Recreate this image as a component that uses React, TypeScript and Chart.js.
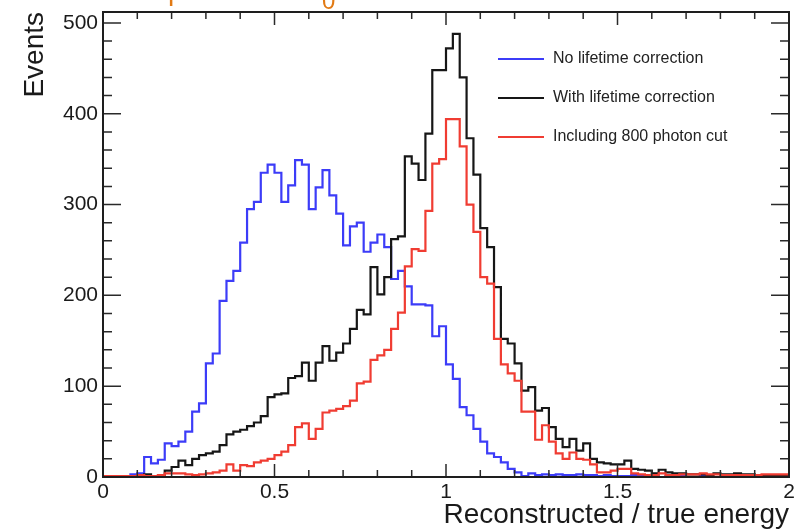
import React, { useEffect, useRef } from "react";
import { Chart, registerables } from "chart.js";

Chart.register(...registerables);

// ---- axis definition ----
const X_MIN = 0;
const X_MAX = 2;
const BIN_WIDTH = 0.02;
const Y_MIN = 0;
const Y_MAX = 512;
const X_MAJOR_STEP = 0.5;
const X_MINOR_STEP = 0.1;
const Y_MAJOR_STEP = 100;
const Y_MINOR_STEP = 20;

const X_TITLE = "Reconstructed / true energy";
const Y_TITLE = "Events";

const SERIES_LABELS = [
  "No lifetime correction",
  "With lifetime correction",
  "Including 800 photon cut",
];
const SERIES_COLORS = ["#3c3cf8", "#161616", "#f03c32"];

// ---- histogram contents (100 bins of width 0.02 from 0 to 2) ----
const NO_LIFETIME = [
  0, 0, 0, 0, 1, 3, 4, 22, 15, 19,
  37, 34, 39, 50, 72, 81, 125, 136, 194, 216,
  227, 258, 295, 303, 335, 344, 335, 303, 321, 349,
  344, 295, 319, 338, 310, 290, 255, 276, 280, 248,
  258, 267, 253, 218, 227, 210, 190, 190, 189, 155,
  166, 124, 108, 77, 68, 53, 39, 26, 22, 16,
  9, 5, 1, 4, 2, 3, 2, 3, 2, 2,
  3, 2, 2, 1, 2, 1, 1, 1, 2, 1,
  1, 1, 0, 1, 0, 1, 0, 0, 1, 0,
  0, 0, 0, 0, 0, 0, 0, 0, 0, 0,
];

const WITH_LIFETIME = [
  0, 0, 0, 0, 0, 1, 1, 3, 1, 1,
  7, 11, 18, 13, 20, 24, 26, 28, 35, 47,
  50, 52, 56, 60, 67, 88, 91, 92, 109, 111,
  126, 106, 126, 144, 128, 137, 147, 163, 184, 179,
  231, 201, 220, 262, 265, 353, 345, 327, 378, 448,
  448, 472, 488, 440, 373, 333, 274, 253, 209, 152,
  147, 125, 95, 99, 73, 76, 55, 42, 33, 42,
  29, 37, 20, 16, 15, 14, 14, 18, 9, 8,
  7, 4, 8, 5, 4, 4, 3, 3, 3, 2,
  4, 3, 3, 4, 3, 3, 1, 1, 1, 1,
];

const PHOTON_CUT = [
  1, 1, 1, 1, 1, 1, 2, 1, 1, 2,
  4, 4, 4, 3, 2, 3, 4, 5, 7, 14,
  7, 13, 12, 16, 18, 20, 24, 28, 35, 55,
  59, 42, 53, 71, 73, 75, 78, 84, 103, 105,
  129, 134, 140, 163, 181, 232, 251, 249, 293, 345,
  350, 394, 394, 364, 300, 270, 220, 213, 152, 124,
  114, 106, 72, 72, 41, 57, 39, 26, 20, 27,
  20, 19, 14, 5, 5, 7, 9, 9, 4, 3,
  2, 2, 4, 2, 2, 3, 3, 3, 4, 3,
  3, 2, 2, 2, 2, 2, 2, 3, 3, 3,
];

const SERIES = [NO_LIFETIME, WITH_LIFETIME, PHOTON_CUT];
const DRAW_ORDER = [2, 1, 0];

const FONT = "'Liberation Sans', Arial, Helvetica, sans-serif";

function toSteps(values: number[]) {
  const pts = values.map((v, i) => ({ x: X_MIN + i * BIN_WIDTH, y: v }));
  pts.push({ x: X_MIN + values.length * BIN_WIDTH, y: values[values.length - 1] });
  return pts;
}

function isMultiple(v: number, step: number) {
  const r = v / step;
  return Math.abs(r - Math.round(r)) < 1e-6;
}

const frameTicksPlugin = {
  id: "frameTicks",
  afterDraw(chart: any) {
    const { ctx, chartArea, scales } = chart;
    const { left, right, top, bottom } = chartArea;
    const xs = scales.x;
    const ys = scales.y;
    ctx.save();
    ctx.strokeStyle = "#2a2a2a";
    ctx.lineWidth = 1.5;
    ctx.beginPath();
    const nx = Math.round((X_MAX - X_MIN) / X_MINOR_STEP);
    for (let i = 0; i <= nx; i++) {
      const v = X_MIN + i * X_MINOR_STEP;
      const len = isMultiple(v, X_MAJOR_STEP) ? 13 : 7;
      const px = xs.getPixelForValue(v);
      ctx.moveTo(px, bottom);
      ctx.lineTo(px, bottom - len);
      ctx.moveTo(px, top);
      ctx.lineTo(px, top + len);
    }
    const ny = Math.floor((Y_MAX - Y_MIN) / Y_MINOR_STEP);
    for (let i = 0; i <= ny; i++) {
      const v = Y_MIN + i * Y_MINOR_STEP;
      const len = isMultiple(v, Y_MAJOR_STEP) ? 18 : 9;
      const py = ys.getPixelForValue(v);
      ctx.moveTo(left, py);
      ctx.lineTo(left + len, py);
      ctx.moveTo(right, py);
      ctx.lineTo(right - len, py);
    }
    ctx.stroke();
    ctx.lineWidth = 2;
    ctx.strokeStyle = "#1e1e1e";
    ctx.strokeRect(left, top, right - left, bottom - top);

    // legend
    const lx0 = 498;
    const lx1 = 544;
    const ly0 = 59;
    const ldy = 39;
    ctx.font = `16px ${FONT}`;
    ctx.textBaseline = "middle";
    ctx.textAlign = "left";
    chart.data.datasets.forEach((ds: any, i: number) => {
      const yy = ly0 + i * ldy;
      ctx.strokeStyle = ds.borderColor;
      ctx.lineWidth = 2;
      ctx.beginPath();
      ctx.moveTo(lx0, yy);
      ctx.lineTo(lx1, yy);
      ctx.stroke();
      ctx.fillStyle = "#222";
      ctx.fillText(ds.label, 553, yy);
    });

    // cut-off remnants of the slide heading above the plot
    ctx.fillStyle = "#e27a14";
    ctx.textBaseline = "alphabetic";
    ctx.font = `28px ${FONT}`;
    ctx.fillText("p", 168, 0);
    ctx.font = `24px ${FONT}`;
    ctx.fillText("0", 322, 9);
    ctx.restore();
  },
};

export default function App() {
  const ref = useRef<HTMLCanvasElement>(null);

  useEffect(() => {
    const canvas = ref.current;
    if (!canvas) return;
    const chart = new Chart(canvas, {
      type: "line",
      data: {
        datasets: SERIES.map((vals, i) => ({
          label: SERIES_LABELS[i],
          data: toSteps(vals),
          borderColor: SERIES_COLORS[i],
          backgroundColor: SERIES_COLORS[i],
          borderWidth: 2.2,
          pointRadius: 0,
          fill: false,
          stepped: "after" as const,
          order: DRAW_ORDER[i],
        })),
      },
      options: {
        responsive: false,
        animation: false,
        events: [],
        layout: { padding: { top: 12, right: 8, left: 0, bottom: 0 } },
        plugins: {
          legend: { display: false },
          tooltip: { enabled: false },
        },
        scales: {
          x: {
            type: "linear",
            min: X_MIN,
            max: X_MAX,
            grid: { display: false, drawTicks: false },
            border: { display: false },
            ticks: {
              stepSize: X_MAJOR_STEP,
              autoSkip: false,
              maxRotation: 0,
              padding: 3,
              color: "#1a1a1a",
              font: { family: FONT, size: 21 },
              callback: (v: any) => String(Number(v)),
            },
            title: {
              display: true,
              text: X_TITLE,
              align: "end",
              color: "#1a1a1a",
              font: { family: FONT, size: 28, lineHeight: 1.15 },
              padding: { top: 0, bottom: 0 },
            },
            afterFit: (s: any) => {
              s.height = 54;
              s.paddingLeft = 0;
              s.paddingRight = 0;
            },
          },
          y: {
            type: "linear",
            min: Y_MIN,
            max: Y_MAX,
            grid: { display: false, drawTicks: false },
            border: { display: false },
            afterBuildTicks: (s: any) => {
              const ticks = [];
              for (let v = Y_MIN; v <= Y_MAX; v += Y_MAJOR_STEP) ticks.push({ value: v });
              s.ticks = ticks;
            },
            ticks: {
              stepSize: Y_MAJOR_STEP,
              padding: 5,
              color: "#1a1a1a",
              font: { family: FONT, size: 21 },
              callback: (v: any) => String(Number(v)),
            },
            title: {
              display: true,
              text: Y_TITLE,
              align: "end",
              color: "#1a1a1a",
              font: { family: FONT, size: 28, lineHeight: 1.2 },
              padding: { top: 18, bottom: 0 },
            },
            afterFit: (s: any) => {
              s.width = 103;
              s.paddingTop = 0;
              s.paddingBottom = 0;
            },
          },
        },
      },
      plugins: [frameTicksPlugin],
    });
    return () => chart.destroy();
  }, []);

  return (
    <div
      style={{
        position: "fixed",
        left: 0,
        top: 0,
        width: 797,
        height: 531,
        background: "#ffffff",
      }}
    >
      <canvas ref={ref} width={797} height={531} style={{ display: "block", width: 797, height: 531 }} />
    </div>
  );
}
